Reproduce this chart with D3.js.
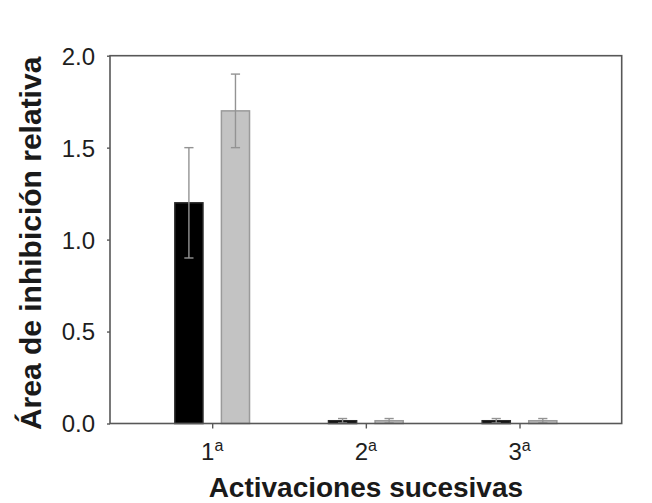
<!DOCTYPE html>
<html>
<head>
<meta charset="utf-8">
<script src="https://cdn.jsdelivr.net/npm/d3@7"></script>
<style>
  html, body { margin: 0; padding: 0; background: #fff; }
  svg { display: block; font-family: "Liberation Sans", Arial, sans-serif; }
</style>
</head>
<body>
<svg id="chart" width="652" height="503"></svg>
<script>
// Successive activations and their relative inhibition area
const categories = [1, 2, 3];
const categoryLabels = ["1", "2", "3"];
const seriesA = [1.2, 0.015, 0.015];      // black bars
const seriesAErr = [0.3, 0.012, 0.012];
const seriesB = [1.7, 0.015, 0.015];      // grey bars
const seriesBErr = [0.2, 0.012, 0.012];
const yTicks = [0, 0.5, 1.0, 1.5, 2.0];

const svg = d3.select("#chart");
const plot = { left: 110, right: 621.7, top: 55.7, bottom: 423.5 };

const x = d3.scaleLinear().domain([0.335, 3.665]).range([plot.left, plot.right]);
const y = d3.scaleLinear().domain([0, 2]).range([plot.bottom, plot.top]);

const barW = 0.183;   // in category units
const gap = 0.06;

const series = [
  { values: seriesA, errs: seriesAErr, offset: -(gap + barW), fill: "#000000", stroke: "#2a2a2a" },
  { values: seriesB, errs: seriesBErr, offset: gap, fill: "#c3c3c3", stroke: "#9a9a9a" }
];

// bars
series.forEach(s => {
  svg.append("g").selectAll("rect")
    .data(categories.map((c, i) => ({ c, v: s.values[i], e: s.errs[i] })))
    .join("rect")
    .attr("x", d => x(d.c + s.offset))
    .attr("width", d => x(d.c + s.offset + barW) - x(d.c + s.offset))
    .attr("y", d => y(d.v))
    .attr("height", d => y(0) - y(d.v))
    .attr("fill", s.fill)
    .attr("stroke", s.stroke)
    .attr("stroke-width", 1.5);
});

// error bars
series.forEach(s => {
  const g = svg.append("g").attr("stroke", "#939393").attr("stroke-width", 1.4).attr("fill", "none");
  categories.forEach((c, i) => {
    const cx = x(c + s.offset + barW / 2);
    const v = s.values[i], e = s.errs[i];
    g.append("line").attr("x1", cx).attr("x2", cx).attr("y1", y(v - e)).attr("y2", y(v + e));
    [v - e, v + e].forEach(t => {
      g.append("line").attr("x1", cx - 4.6).attr("x2", cx + 4.6).attr("y1", y(t)).attr("y2", y(t));
    });
  });
});

// frame
const frameColor = "#585858";
svg.append("rect")
  .attr("x", plot.left).attr("y", plot.top)
  .attr("width", plot.right - plot.left).attr("height", plot.bottom - plot.top)
  .attr("fill", "none").attr("stroke", frameColor).attr("stroke-width", 1.6);

// y axis
const yAxis = d3.axisLeft(y).tickValues(yTicks).tickFormat(d3.format(".1f")).tickSize(3).tickPadding(12);
const gy = svg.append("g").attr("transform", `translate(${plot.left},0)`).call(yAxis);
gy.select(".domain").remove();
gy.selectAll(".tick line").attr("stroke", frameColor).attr("stroke-width", 1.4);
gy.selectAll(".tick text").attr("fill", "#1e1e1e").style("font-size", "24px").attr("dy", "0.35em");

// x axis
const xAxis = d3.axisBottom(x).tickValues(categories).tickFormat(() => "").tickSize(5);
const gx = svg.append("g").attr("transform", `translate(0,${plot.bottom})`).call(xAxis);
gx.select(".domain").remove();
gx.selectAll(".tick line").attr("stroke", frameColor).attr("stroke-width", 1.4);

const lbl = svg.append("g").selectAll("text")
  .data(categories)
  .join("text")
  .attr("x", d => x(d))
  .attr("y", 460)
  .attr("text-anchor", "middle")
  .attr("fill", "#1e1e1e")
  .style("font-size", "24px");
lbl.append("tspan").text((d, i) => categoryLabels[i]);
lbl.append("tspan").attr("dy", "-9").style("font-size", "16px").text("a");

// axis titles
svg.append("text")
  .attr("x", (plot.left + plot.right) / 2).attr("y", 497)
  .attr("text-anchor", "middle")
  .attr("fill", "#1a1a1a")
  .style("font-size", "28px").style("font-weight", "bold")
  .text("Activaciones sucesivas");

svg.append("text")
  .attr("transform", `translate(41,243.4) rotate(-90)`)
  .attr("text-anchor", "middle")
  .attr("fill", "#1a1a1a")
  .style("font-size", "30px").style("font-weight", "bold")
  .text("Área de inhibición relativa");
</script>
</body>
</html>
